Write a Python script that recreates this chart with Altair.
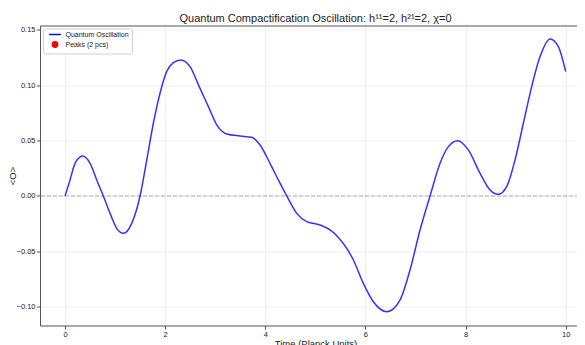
import altair as alt
import pandas as pd

# ---- data ----
time_vals = [0, 0.1, 0.2, 0.353, 0.5, 0.633, 0.765, 0.9, 1.032, 1.165, 1.332, 1.498,
             1.632, 1.764, 1.897, 2.03, 2.163, 2.31, 2.497, 2.68, 2.863, 3.03, 3.23,
             3.495, 3.728, 3.895, 4.094, 4.26, 4.428, 4.627, 4.827, 5.093, 5.293, 5.45,
             5.626, 5.758, 5.958, 6.158, 6.425, 6.69, 6.89, 7.09, 7.29, 7.49, 7.656,
             7.843, 8.055, 8.289, 8.489, 8.654, 8.82, 8.987, 9.154, 9.32, 9.487, 9.687,
             9.853, 10.0]
osc_vals = [0, 0.0145, 0.0295, 0.0361, 0.0295, 0.0145, 0, -0.0157, -0.0292, -0.0337,
            -0.0247, 0, 0.0325, 0.0657, 0.0928, 0.1123, 0.1204, 0.1229, 0.1168, 0.0988,
            0.0807, 0.0642, 0.056, 0.0542, 0.053, 0.0461, 0.0295, 0.0145, 0, -0.0157,
            -0.0232, -0.0262, -0.0307, -0.037, -0.0473, -0.0578, -0.0789, -0.0955,
            -0.1045, -0.094, -0.0669, -0.0307, 0, 0.0295, 0.0446, 0.050, 0.0416, 0.0205,
            0.0054, 0.0015, 0.0084, 0.0325, 0.0657, 0.0988, 0.1259, 0.1419, 0.1349, 0.1123]
legend_series = ["Quantum Oscillation", "Peaks (2 pcs)"]
legend_colors = ["#0000ff", "#ff0000"]
legend_shapes = ["M-2.2,0L2.2,0", "circle"]
x_ticks = [0, 2, 4, 6, 8, 10]
y_ticks = [-0.10, -0.05, 0.0, 0.05, 0.10, 0.15]
baseline = [0.0]
title_text = "Quantum Compactification Oscillation: h\u00b9\u00b9=2, h\u00b2\u00b9=2, \u03c7=0"

df = pd.DataFrame({"t": time_vals, "v": osc_vals})
leg_df = pd.DataFrame({"series": legend_series})
zero_df = pd.DataFrame({"y": baseline})

FONT = "Liberation Sans"
SPINE = "#555555"
W, H = 545, 300
x_scale = alt.Scale(domain=[-0.5, 10.385], nice=False, zero=False)
y_scale = alt.Scale(domain=[-0.117, 0.154], nice=False, zero=False)

zero = alt.Chart(zero_df).mark_rule(
    color="#9a9a9a", strokeDash=[4, 2], strokeWidth=1, opacity=0.8
).encode(y=alt.Y("y:Q", scale=y_scale))

line = alt.Chart(df).mark_line(
    color="#0000ff", opacity=0.8, strokeWidth=1.5, interpolate="monotone"
).encode(
    x=alt.X("t:Q", scale=x_scale,
            axis=alt.Axis(values=x_ticks, format="d", title="Time (Planck Units)",
                          titlePadding=1, labelPadding=1, titleX=275.5)),
    y=alt.Y("v:Q", scale=y_scale,
            axis=alt.Axis(values=y_ticks, format=".2f", title="<O>",
                          labelPadding=1.5, titleX=-23, titleY=H / 2,
                          titleAlign="center", titleAngle=270)),
)

# top spine (matplotlib frame) drawn as a label-less top axis
top_spine = alt.Chart(df).mark_point(opacity=0).encode(
    x=alt.X("t:Q", scale=x_scale,
            axis=alt.Axis(orient="top", labels=False, ticks=False, grid=False,
                          title=None, domain=True)),
)

sc = alt.Scale(domain=legend_series, range=legend_colors)
leg = alt.Legend(title=None)
legend_layer = alt.Chart(leg_df).mark_point(filled=True, opacity=0).encode(
    fill=alt.Fill("series:N", scale=sc, legend=leg),
    stroke=alt.Stroke("series:N", scale=sc, legend=leg),
    shape=alt.Shape("series:N", scale=alt.Scale(domain=legend_series, range=legend_shapes),
                    legend=leg),
)

chart = alt.layer(zero, line, top_spine, legend_layer).resolve_axis(
    x="independent"
).properties(
    width=W, height=H,
    autosize=alt.AutoSizeParams(type="none"),
    padding={"left": 32, "top": 17.5, "right": -8, "bottom": 19.5},
    title=alt.TitleParams(text=title_text, font=FONT, fontSize=11, fontWeight="normal",
                          color="#222222", offset=2, anchor="middle", dx=3),
).configure_view(
    strokeWidth=0
).configure_axis(
    labelFont=FONT, labelFontSize=7.5, labelColor="#222222",
    titleFont=FONT, titleFontSize=9.5, titleFontWeight="normal", titleColor="#222222",
    tickColor=SPINE, tickSize=3.5, tickWidth=1, domain=True, domainColor=SPINE,
    domainWidth=1, gridColor="#ebebeb", gridWidth=0.8,
).configure_legend(
    orient="top-left", offset=3, padding=2.5, labelFont=FONT, labelFontSize=7,
    labelColor="#222222", symbolSize=28, symbolStrokeWidth=1.5, symbolOpacity=1,
    fillColor="rgba(255,255,255,0.85)", strokeColor="#d0d0d0", cornerRadius=2,
    rowPadding=0, symbolOffset=6, labelOffset=7,
)

chart.save("out.html", embed_options={"renderer": "svg", "actions": False})
